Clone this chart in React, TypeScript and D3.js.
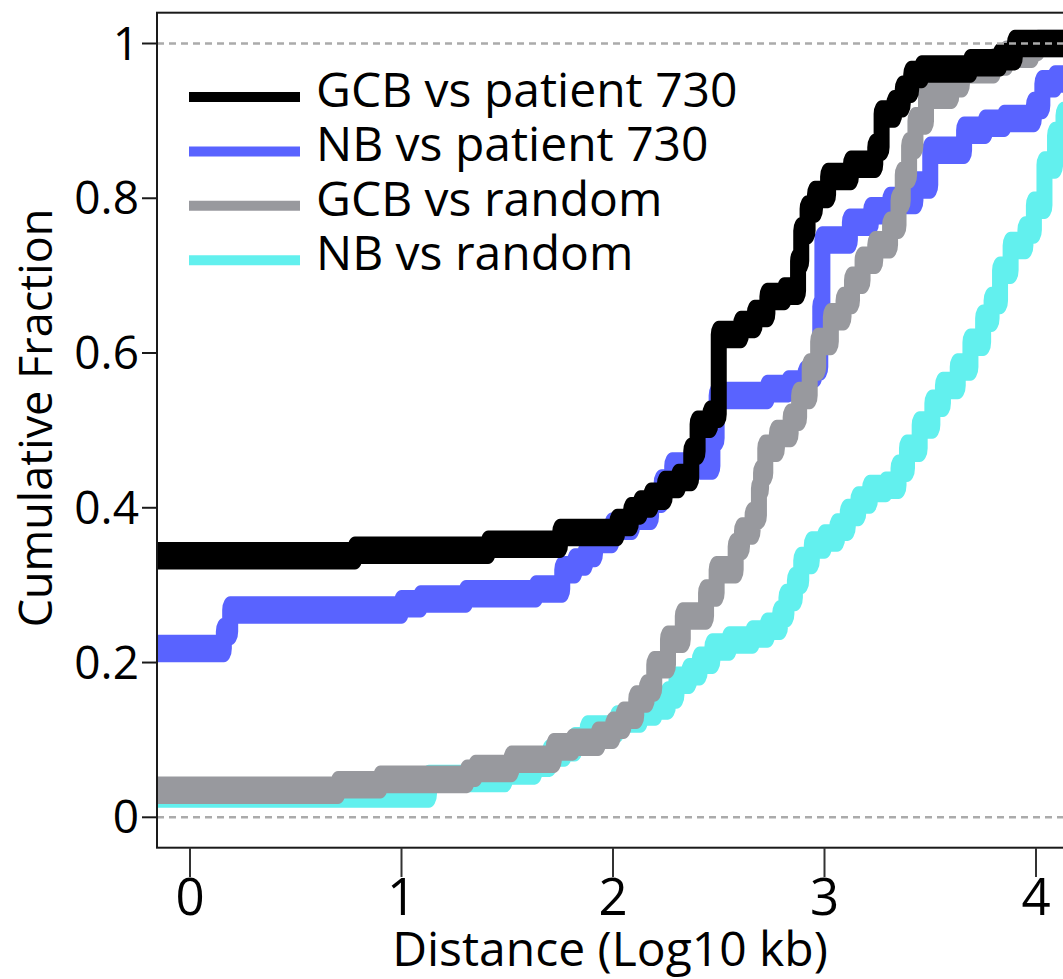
import React from "react";
import * as d3 from "d3";

// ---- data (step points of each empirical CDF: x = log10 distance, y = cumulative fraction) ----
const gcbPatientX = [-0.3, 0.78, 1.41, 1.75, 2.02, 2.085, 2.13, 2.18, 2.245, 2.31, 2.37, 2.40, 2.46, 2.50, 2.605, 2.67, 2.73, 2.81, 2.875, 2.89, 2.92, 2.955, 3.017, 3.125, 3.24, 3.27, 3.33, 3.37, 3.41, 3.46, 3.69, 3.83, 3.90, 4.4];
const gcbPatientY = [0.338, 0.345, 0.353, 0.368, 0.381, 0.396, 0.405, 0.415, 0.430, 0.439, 0.473, 0.508, 0.521, 0.624, 0.637, 0.651, 0.673, 0.680, 0.719, 0.758, 0.786, 0.805, 0.828, 0.844, 0.866, 0.909, 0.922, 0.941, 0.96, 0.967, 0.975, 0.983, 1.0, 1.0];

const nbPatientX = [-0.3, 0.16, 0.19, 1.0, 1.09, 1.305, 1.636, 1.76, 1.82, 1.87, 1.915, 1.995, 2.09, 2.18, 2.23, 2.28, 2.47, 2.49, 2.73, 2.83, 2.91, 2.955, 2.98, 2.99, 3.12, 3.22, 3.31, 3.43, 3.5, 3.66, 3.76, 3.85, 3.99, 4.03, 4.09, 4.2];
const nbPatientY = [0.218, 0.24, 0.268, 0.276, 0.282, 0.289, 0.295, 0.32, 0.33, 0.341, 0.359, 0.376, 0.389, 0.411, 0.432, 0.454, 0.49, 0.545, 0.554, 0.56, 0.573, 0.582, 0.66, 0.746, 0.769, 0.784, 0.797, 0.817, 0.862, 0.888, 0.897, 0.903, 0.92, 0.948, 0.954, 0.97];

const gcbRandomX = [-0.3, 0.70, 0.90, 1.31, 1.35, 1.52, 1.72, 1.81, 1.93, 2.0, 2.05, 2.11, 2.16, 2.195, 2.26, 2.33, 2.44, 2.49, 2.58, 2.61, 2.66, 2.69, 2.70, 2.72, 2.775, 2.84, 2.88, 2.93, 2.97, 3.03, 3.09, 3.13, 3.18, 3.24, 3.31, 3.35, 3.37, 3.40, 3.43, 3.48, 3.60, 3.65, 3.80, 3.86, 3.98, 4.01, 4.4];
const gcbRandomY = [0.035, 0.042, 0.049, 0.057, 0.063, 0.075, 0.091, 0.097, 0.106, 0.119, 0.132, 0.153, 0.167, 0.197, 0.23, 0.26, 0.29, 0.32, 0.35, 0.37, 0.39, 0.425, 0.445, 0.477, 0.496, 0.517, 0.545, 0.582, 0.615, 0.647, 0.668, 0.694, 0.72, 0.74, 0.765, 0.797, 0.83, 0.868, 0.9, 0.933, 0.948, 0.966, 0.976, 0.986, 0.995, 1.0, 1.0];

const nbRandomX = [-0.3, 1.13, 1.49, 1.63, 1.70, 1.77, 1.82, 1.88, 2.02, 2.13, 2.20, 2.26, 2.30, 2.36, 2.41, 2.47, 2.55, 2.66, 2.73, 2.79, 2.82, 2.86, 2.89, 2.94, 3.0, 3.06, 3.11, 3.16, 3.215, 3.29, 3.35, 3.39, 3.45, 3.51, 3.56, 3.63, 3.69, 3.75, 3.79, 3.83, 3.88, 3.95, 3.99, 4.04, 4.09, 4.13, 4.18, 4.25, 4.3];
const nbRandomY = [0.030, 0.050, 0.060, 0.070, 0.083, 0.090, 0.099, 0.114, 0.127, 0.136, 0.144, 0.158, 0.177, 0.188, 0.203, 0.22, 0.229, 0.237, 0.247, 0.263, 0.284, 0.306, 0.332, 0.352, 0.361, 0.375, 0.394, 0.41, 0.425, 0.429, 0.451, 0.477, 0.507, 0.535, 0.558, 0.582, 0.614, 0.645, 0.668, 0.707, 0.739, 0.759, 0.791, 0.843, 0.881, 0.907, 0.95, 0.98, 1.0];

const seriesNames = ["GCB vs patient 730", "NB vs patient 730", "GCB vs random", "NB vs random"];
const seriesColors = ["#000000", "#5963FF", "#98999E", "#62F0EE"];
const drawOrder = [3, 1, 2, 0];

const xTicks = [0, 1, 2, 3, 4];
const yTicks = [0, 0.2, 0.4, 0.6, 0.8, 1];
const yTickLabels = ["0", "0.2", "0.4", "0.6", "0.8", "1"];
const refLines = [0, 1];

const FONT = "'Open Sans', 'DejaVu Sans', sans-serif";

export default function App() {
  const W = 1063;
  const H = 979;
  const x = d3.scaleLinear().domain([0, 4]).range([190, 1036]);
  const y = d3.scaleLinear().domain([0, 1]).range([817.3, 43.5]);
  const left = 157;
  const top = 12.7;
  const bottom = 847.7;
  const right = 1110;

  const S = 1.72; // vertical stretch of the pen
  const PEN = 16;

  const xs = [gcbPatientX, nbPatientX, gcbRandomX, nbRandomX];
  const ys = [gcbPatientY, nbPatientY, gcbRandomY, nbRandomY];

  const line = d3
    .line<[number, number]>()
    .x((d) => x(d[0]))
    .y((d) => y(d[1]) / S)
    .curve(d3.curveStepAfter);

  const legendY0 = 97;
  const legendDy = 54.4;

  return (
    <svg
      width={W}
      height={H}
      style={{ position: "absolute", left: 0, top: 0, background: "#fff", overflow: "hidden" }}
      fontFamily={FONT}
    >
      <defs>
        <clipPath id="plotclip">
          <rect x={left} y={top} width={right - left} height={bottom - top} />
        </clipPath>
      </defs>
      <rect x={0} y={0} width={W} height={H} fill="#fff" />

      <g clipPath="url(#plotclip)">
        <g transform={`scale(1,${S})`}>
          {drawOrder.map((i) => {
            const pts: [number, number][] = xs[i].map((v, k) => [v, ys[i][k]]);
            return (
              <path
                key={i}
                d={line(pts) || ""}
                fill="none"
                stroke={seriesColors[i]}
                strokeWidth={PEN}
                strokeLinejoin="round"
                strokeLinecap="round"
              />
            );
          })}
        </g>
        {refLines.map((r) => (
          <line
            key={r}
            x1={left}
            x2={right}
            y1={y(r)}
            y2={y(r)}
            stroke="#ABABAB"
            strokeWidth={2.5}
            strokeDasharray="7,5"
          />
        ))}
      </g>

      {/* axis box */}
      <rect x={left} y={top} width={right - left} height={bottom - top} fill="none" stroke="#1a1a1a" strokeWidth={2} />

      {/* y axis ticks */}
      {yTicks.map((t, i) => (
        <g key={t}>
          <line x1={142} x2={left} y1={y(t)} y2={y(t)} stroke="#1a1a1a" strokeWidth={2} />
          <text x={139} y={y(t) + 16} textAnchor="end" fontSize={46} fill="#000">
            {yTickLabels[i]}
          </text>
        </g>
      ))}

      {/* x axis ticks */}
      {xTicks.map((t) => (
        <g key={t}>
          <line x1={x(t)} x2={x(t)} y1={bottom} y2={877} stroke="#333" strokeWidth={2} />
          <text x={x(t)} y={915} textAnchor="middle" fontSize={51} fill="#000">
            {t}
          </text>
        </g>
      ))}

      <text x={610} y={966} textAnchor="middle" fontSize={48} fill="#000">
        Distance (Log10 kb)
      </text>
      <text
        transform={`translate(52,418) rotate(-90)`}
        textAnchor="middle"
        fontSize={45}
        fill="#000"
      >
        Cumulative Fraction
      </text>

      {/* legend */}
      {seriesNames.map((n, i) => (
        <g key={n}>
          <line
            x1={189}
            x2={300}
            y1={legendY0 + i * legendDy}
            y2={legendY0 + i * legendDy}
            stroke={seriesColors[i]}
            strokeWidth={10}
          />
          <text x={316} y={legendY0 + i * legendDy + 10} fontSize={48} fill="#000">
            {n}
          </text>
        </g>
      ))}
    </svg>
  );
}
